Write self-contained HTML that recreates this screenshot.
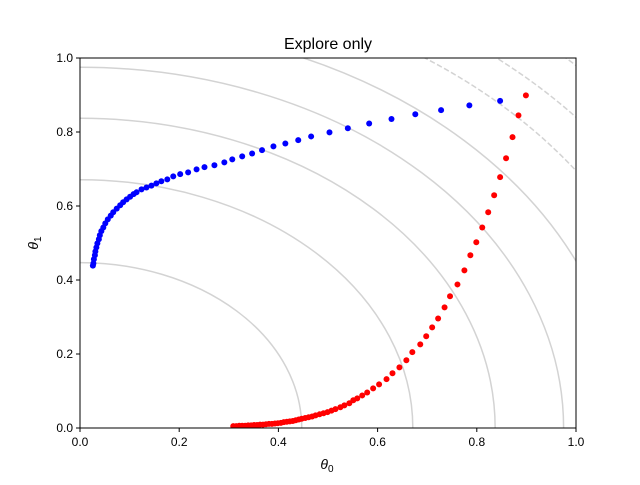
<!DOCTYPE html>
<html><head><meta charset="utf-8"><style>
body{margin:0;background:#fff;}
svg text{font-family:"Liberation Sans","DejaVu Sans",sans-serif;}
</style></head><body>
<svg id="chart" width="640" height="480" xmlns="http://www.w3.org/2000/svg">
<defs><clipPath id="clip"><rect x="80" y="58" width="496" height="370"/></clipPath></defs>
<rect width="640" height="480" fill="#fff"/>
<text x="328" y="49" font-size="16" text-anchor="middle">Explore only</text>
<g id="contours" clip-path="url(#clip)"></g>
<g id="pts" clip-path="url(#clip)"></g>
<rect x="80" y="58" width="496" height="370" fill="none" stroke="#000" stroke-width="1"/>
<g id="axes"></g>
<text x="327" y="469" font-size="14" text-anchor="middle" font-style="italic">θ<tspan font-size="10" dy="3" font-style="normal">0</tspan></text>
<text transform="translate(38,243) rotate(-90)" font-size="14" text-anchor="middle" font-style="italic">θ<tspan font-size="10" dy="3" font-style="normal">1</tspan></text>
</svg>
<script>
const xTicks=[0,0.2,0.4,0.6,0.8,1.0];
const yTicks=[0,0.2,0.4,0.6,0.8,1.0];
const tickLabels=["0.0","0.2","0.4","0.6","0.8","1.0"];
const solidRadii=[0.447,0.671,0.837,0.975,1.097];
const dashedRadii=[1.218,1.306,1.40];
const blueX=[0.847,0.785,0.728,0.676,0.628,0.583,0.540,0.503,0.466,0.440,0.414,0.390,0.367,0.347,0.327,0.307,0.291,0.271,0.251,0.235,0.218,0.202,0.188,0.176,0.164,0.154,0.144,0.134,0.124,0.114,0.108,0.101,0.094,0.087,0.081,0.074,0.067,0.062,0.056,0.051,0.047,0.043,0.040,0.038,0.035,0.033,0.031,0.030,0.028,0.027,0.026];
const blueY=[0.884,0.872,0.859,0.848,0.835,0.823,0.810,0.799,0.788,0.778,0.769,0.761,0.751,0.742,0.734,0.726,0.718,0.710,0.705,0.699,0.691,0.686,0.680,0.672,0.667,0.661,0.655,0.650,0.645,0.637,0.632,0.625,0.618,0.610,0.602,0.593,0.583,0.574,0.564,0.553,0.542,0.532,0.521,0.510,0.499,0.488,0.477,0.467,0.456,0.445,0.439];
const redX=[0.899,0.884,0.872,0.859,0.847,0.835,0.823,0.811,0.799,0.787,0.775,0.761,0.746,0.735,0.722,0.710,0.698,0.686,0.670,0.658,0.644,0.630,0.618,0.603,0.591,0.579,0.569,0.559,0.551,0.543,0.533,0.525,0.515,0.507,0.499,0.491,0.483,0.475,0.468,0.461,0.454,0.447,0.441,0.435,0.429,0.423,0.417,0.411,0.405,0.399,0.393,0.387,0.381,0.375,0.369,0.363,0.357,0.351,0.345,0.339,0.333,0.327,0.321,0.315,0.309];
const redY=[0.899,0.845,0.786,0.729,0.678,0.629,0.583,0.542,0.502,0.467,0.426,0.388,0.356,0.326,0.296,0.272,0.248,0.226,0.205,0.183,0.164,0.148,0.132,0.118,0.107,0.096,0.088,0.080,0.075,0.067,0.061,0.056,0.051,0.047,0.043,0.040,0.037,0.034,0.031,0.029,0.027,0.025,0.023,0.021,0.019,0.018,0.017,0.016,0.014,0.013,0.012,0.011,0.011,0.010,0.009,0.009,0.008,0.008,0.007,0.007,0.006,0.006,0.006,0.005,0.005];
const X0=80,X1=576,Y0=428,Y1=58;
const sx=v=>X0+v*(X1-X0), sy=v=>Y0-v*(Y0-Y1);
const NS="http://www.w3.org/2000/svg";
function mk(tag,attrs,parent){const e=document.createElementNS(NS,tag);for(const k in attrs)e.setAttribute(k,attrs[k]);parent.appendChild(e);return e;}
const cg=document.getElementById('contours');
function arc(r){return `M ${sx(r)} ${sy(0)} A ${r*(X1-X0)} ${r*(Y0-Y1)} 0 0 0 ${sx(0)} ${sy(r)}`;}
solidRadii.forEach(r=>{const p=mk('path',{d:arc(r),fill:'none',stroke:'#d3d3d3','stroke-width':1.5},cg);

});
dashedRadii.forEach(r=>{const p=mk('path',{d:arc(r),fill:'none',stroke:'#d3d3d3','stroke-width':1.5,'stroke-dasharray':'5.5,2.5'},cg);

});
const pg=document.getElementById('pts');
blueX.forEach((v,i)=>{const c=mk('circle',{cx:sx(v),cy:sy(blueY[i]),r:3,fill:'#0000ff'},pg);

});
redX.forEach((v,i)=>{const c=mk('circle',{cx:sx(v),cy:sy(redY[i]),r:3,fill:'#ff0000'},pg);

});
const ag=document.getElementById('axes');
xTicks.forEach((v,i)=>{mk('line',{x1:sx(v),x2:sx(v),y1:Y0,y2:Y0+4,stroke:'#000'},ag);
const t=mk('text',{x:sx(v),y:Y0+18,'font-size':12,'text-anchor':'middle'},ag);t.textContent=tickLabels[i];

});
yTicks.forEach((v,i)=>{mk('line',{x1:X0-4,x2:X0,y1:sy(v),y2:sy(v),stroke:'#000'},ag);
const t=mk('text',{x:X0-7,y:sy(v)+4,'font-size':12,'text-anchor':'end'},ag);t.textContent=tickLabels[i];

});
</script>
</body></html>
